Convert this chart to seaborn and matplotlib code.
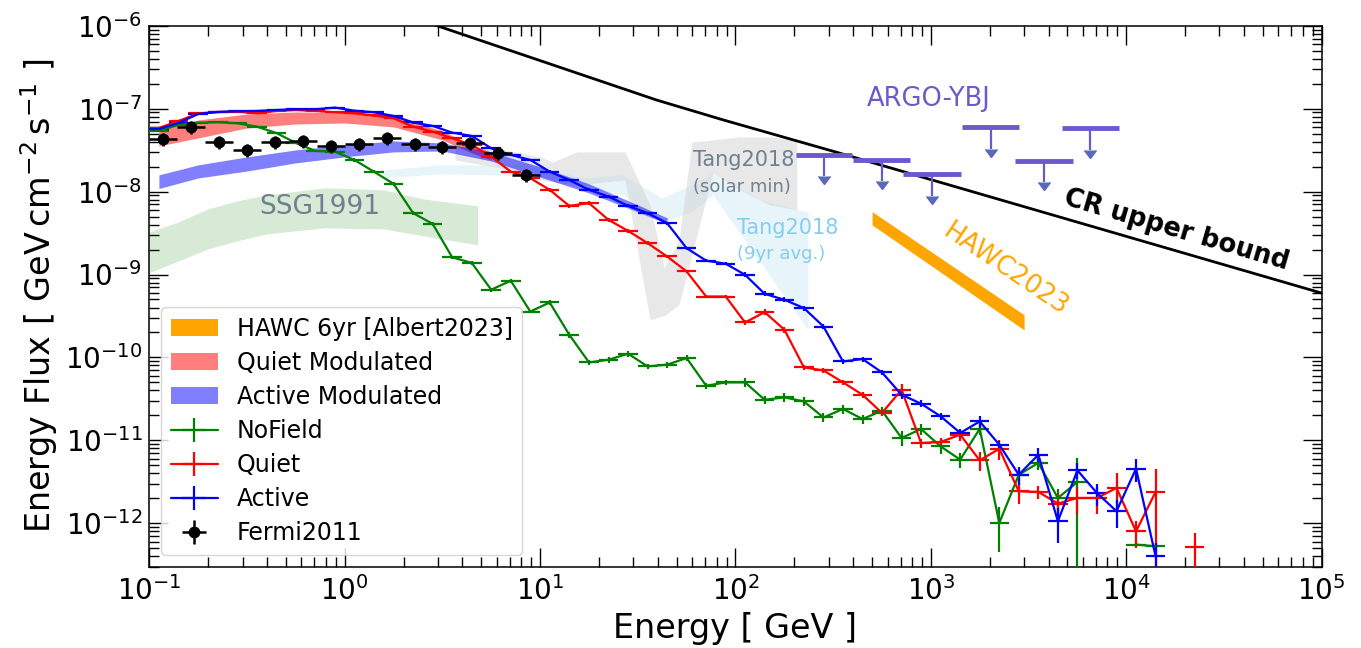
import numpy as np
import pandas as pd
import matplotlib
matplotlib.use("Agg")
import matplotlib.pyplot as plt
from matplotlib.ticker import LogLocator
import seaborn as sns

# ---------------- data ----------------
E_MODEL = [0.112, 0.141, 0.178, 0.224, 0.282, 0.355, 0.447, 0.562, 0.708, 0.891,
           1.12, 1.41, 1.78, 2.24, 2.82, 3.55, 4.47, 5.62, 7.08, 8.91,
           11.2, 14.1, 17.8, 22.4, 28.2, 35.5, 44.7, 56.2, 70.8, 89.1,
           112, 141, 178, 224, 282, 355, 447, 562, 708, 891,
           1122, 1413, 1778, 2239, 2818, 3548, 4467, 5623, 7079, 8913,
           11220, 14125, 17783, 22387]

NOFIELD = [5.43e-8, 6.36e-8, 6.78e-8, 6.86e-8, 6.67e-8, 6.07e-8, 5.09e-8, 3.86e-8, 3.09e-8, 3.03e-8,
           2.41e-8, 1.74e-8, 1.24e-8, 5.5e-9, 4.08e-9, 1.61e-9, 1.38e-9, 6.56e-10, 8.41e-10, 3.58e-10,
           4.6e-10, 1.88e-10, 8.71e-11, 9.38e-11, 1.11e-10, 7.8e-11, 8.18e-11, 9.84e-11, 4.56e-11, 5.0e-11,
           5.0e-11, 3.09e-11, 3.3e-11, 2.95e-11, 1.89e-11, 2.39e-11, 1.81e-11, 2.28e-11, 1.07e-11, 1.37e-11,
           8.47e-12, 5.85e-12, 1.38e-11, 1.01e-12, 3.85e-12, 5.35e-12, 2.02e-12, 3.15e-12, np.nan, np.nan,
           5.54e-13, 5.28e-13, np.nan, np.nan]

QUIET = [5.85e-8, 7.11e-8, 8.75e-8, 9.12e-8, 9.2e-8, 8.8e-8, 9.38e-8, 9.64e-8, 9.38e-8, 9.05e-8,
         8.8e-8, 8.28e-8, 7.66e-8, 6.07e-8, 5.28e-8, 4.4e-8, 3.65e-8, 2.64e-8, 1.74e-8, 1.45e-8,
         1.05e-8, 6.72e-9, 7.25e-9, 4.56e-9, 3.36e-9, 2.39e-9, 1.65e-9, 1.09e-9, 5.43e-10, 5.43e-10,
         2.64e-10, 3.52e-10, 2.16e-10, 7.58e-11, 6.97e-11, 5.0e-11, 3.55e-11, 2.14e-11, 4.08e-11, 9.3e-12,
         9.57e-12, 1.17e-11, 5.74e-12, 7.92e-12, 2.43e-12, 2.39e-12, 1.73e-12, 2.02e-12, 2.02e-12, 2.67e-12,
         8.0e-13, 2.39e-12, np.nan, 5.2e-13]

ACTIVE = [5.69e-8, 6.72e-8, 8.63e-8, 9.12e-8, 9.3e-8, 9.38e-8, 9.64e-8, 9.83e-8, 9.83e-8, 1.03e-7,
          9.46e-8, 9.05e-8, 8.17e-8, 6.82e-8, 6.19e-8, 5.14e-8, 4.69e-8, 3.33e-8, 2.77e-8, 2.41e-8,
          1.74e-8, 1.38e-8, 1.05e-8, 8.71e-9, 6.72e-9, 5.5e-9, 4.16e-9, 2.08e-9, 1.47e-9, 1.35e-9,
          9.92e-10, 5.85e-10, 4.96e-10, 3.94e-10, 2.36e-10, 8.95e-11, 9.57e-11, 6.6e-11, 3.55e-11, 2.77e-11,
          1.95e-11, 1.23e-11, 1.69e-11, 8.87e-12, 3.85e-12, 6.72e-12, 1.06e-12, 4.35e-12, 2.32e-12, 1.4e-12,
          4.56e-12, 4.0e-13, np.nan, np.nan]

REL_ERR_NOFIELD = [0.02, 0.02, 0.02, 0.02, 0.02, 0.02, 0.02, 0.02, 0.02, 0.02,
                   0.05, 0.05, 0.05, 0.05, 0.05, 0.05, 0.05, 0.05, 0.05, 0.05,
                   0.08, 0.08, 0.08, 0.08, 0.08, 0.08, 0.08, 0.08, 0.08, 0.08,
                   0.12, 0.12, 0.12, 0.12, 0.12, 0.12, 0.12, 0.12, 0.20, 0.15,
                   0.20, 0.20, 0.15, 0.55, 0.15, 0.17, 0.30, 0.95, 0.0, 0.0,
                   0.10, 0.10, 0.0, 0.0]
REL_ERR_QUIET = [0.02, 0.02, 0.02, 0.02, 0.02, 0.02, 0.02, 0.02, 0.02, 0.02,
                 0.03, 0.03, 0.03, 0.03, 0.03, 0.03, 0.03, 0.03, 0.03, 0.03,
                 0.05, 0.05, 0.05, 0.05, 0.05, 0.05, 0.05, 0.05, 0.05, 0.05,
                 0.08, 0.08, 0.08, 0.08, 0.08, 0.08, 0.08, 0.08, 0.18, 0.12,
                 0.12, 0.15, 0.25, 0.27, 0.30, 0.18, 0.30, 0.35, 0.35, 0.50,
                 0.35, 0.90, 0.0, 0.45]
REL_ERR_ACTIVE = [0.02, 0.02, 0.02, 0.02, 0.02, 0.02, 0.02, 0.02, 0.02, 0.02,
                  0.03, 0.03, 0.03, 0.03, 0.03, 0.03, 0.03, 0.03, 0.03, 0.03,
                  0.04, 0.04, 0.04, 0.04, 0.04, 0.04, 0.04, 0.04, 0.04, 0.04,
                  0.07, 0.07, 0.07, 0.07, 0.07, 0.07, 0.07, 0.07, 0.10, 0.10,
                  0.10, 0.10, 0.17, 0.12, 0.25, 0.20, 0.45, 0.22, 0.30, 0.38,
                  0.30, 0.45, 0.0, 0.0]

FERMI_E = [0.118, 0.164, 0.228, 0.316, 0.439, 0.611, 0.848, 1.18, 1.64, 2.28, 3.16, 4.39, 6.11, 8.48]
FERMI_F = [4.28e-8, 6.07e-8, 4.0e-8, 3.18e-8, 4.0e-8, 4.08e-8, 3.58e-8, 3.76e-8, 4.4e-8,
           3.72e-8, 3.48e-8, 3.89e-8, 2.9e-8, 1.59e-8]
FERMI_REL_ERR = [0.18, 0.18, 0.18, 0.18, 0.18, 0.18, 0.18, 0.18, 0.18, 0.18, 0.18, 0.18, 0.18, 0.18]

QUIET_MOD_E = [0.112, 0.178, 0.316, 0.562, 1.0, 1.78, 3.16, 4.47, 5.62]
QUIET_MOD_LO = [3.55e-8, 4.44e-8, 5.85e-8, 6.54e-8, 6.72e-8, 6.02e-8, 4.2e-8, 2.93e-8, 2.41e-8]
QUIET_MOD_HI = [5.54e-8, 7.31e-8, 8.63e-8, 9.12e-8, 8.87e-8, 8.17e-8, 5.39e-8, 3.65e-8, 3.01e-8]

ACTIVE_MOD_E = [0.112, 0.178, 0.316, 0.562, 1.0, 1.78, 3.16, 5.62, 10.0, 17.8, 31.6, 44.7]
ACTIVE_MOD_LO = [1.09e-8, 1.46e-8, 1.77e-8, 2.22e-8, 2.62e-8, 3.01e-8, 3.09e-8, 2.34e-8, 1.5e-8,
                 9.64e-9, 5.69e-9, 4.08e-9]
ACTIVE_MOD_HI = [1.59e-8, 2.1e-8, 2.62e-8, 3.18e-8, 3.65e-8, 4.08e-8, 3.86e-8, 3.01e-8, 1.99e-8,
                 1.24e-8, 6.92e-9, 4.82e-9]

SSG_E = [0.1, 0.141, 0.2, 0.282, 0.398, 0.794, 1.585, 2.51, 4.79]
SSG_LO = [1.05e-9, 1.46e-9, 2.04e-9, 2.55e-9, 3.09e-9, 3.65e-9, 3.55e-9, 2.93e-9, 2.28e-9]
SSG_HI = [3.27e-9, 4.31e-9, 6.19e-9, 7.72e-9, 9.12e-9, 1.11e-8, 1.05e-8, 8.17e-9, 6.72e-9]

TANG_MIN_E = [3.67, 6.24, 10.0, 11.6, 15.4, 27.2, 36.5, 43.1, 51.4, 59.8, 76.6, 105, 150, 206]
TANG_MIN_LO = [2.41e-8, 1.93e-8, 1.38e-8, 1.31e-8, 1.2e-8, 1.38e-8, 2.85e-10, 3.18e-10, 4.31e-10,
               1.73e-9, 1.68e-8, 1.05e-8, 6.92e-9, 6.02e-9]
TANG_MIN_HI = [3.55e-8, 3.27e-8, 2.62e-8, 2.28e-8, 3.01e-8, 3.01e-8, 6.92e-9, 1.2e-9, 2.62e-9,
               3.97e-8, 4.2e-8, 4.56e-8, 4.56e-8, 4.2e-8]

TANG_AVG_E = [1.57, 3.07, 8.57, 16.6, 26.6, 42.0, 59.8, 76.6, 133.5, 235]
TANG_AVG_LO = [1.46e-8, 1.64e-8, 1.55e-8, 1.11e-8, 9.12e-9, 4.31e-9, 5.69e-9, 9.12e-9, 1.42e-9, 2.16e-10]
TANG_AVG_HI = [1.82e-8, 2.1e-8, 2.1e-8, 1.46e-8, 1.59e-8, 8.4e-9, 1.2e-8, 1.68e-8, 7.94e-9, 5.69e-9]

HAWC_E = [500, 3000]
HAWC_LO = [3.97e-9, 2.15e-10]
HAWC_HI = [5.74e-9, 3.27e-10]

ARGO_E = [283, 562, 1014, 2037, 3784, 6531]
ARGO_E_LO = [204, 401, 724, 1439, 2692, 4667]
ARGO_E_HI = [393, 778, 1422, 2825, 5321, 9204]
ARGO_F = [2.77e-8, 2.41e-8, 1.63e-8, 5.97e-8, 2.36e-8, 5.81e-8]

CR_E = [2.0, 2.97, 39.5, 86.6, 343, 1e5]
CR_F = [1.37e-6, 1.0e-6, 1.27e-7, 7.31e-8, 2.9e-8, 5.97e-10]

LEGEND_LABELS = ["HAWC 6yr [Albert2023]", "Quiet Modulated", "Active Modulated",
                 "NoField", "Quiet", "Active", "Fermi2011"]

# ---------------- style ----------------
sns.set_theme(style="ticks")
plt.rcParams["font.family"] = ["DejaVu Sans"]
plt.rcParams.update({
    "xtick.direction": "in", "ytick.direction": "in",
    "xtick.top": True, "ytick.right": True,
    "xtick.major.size": 14, "ytick.major.size": 14,
    "xtick.minor.size": 7.5, "ytick.minor.size": 7.5,
    "xtick.major.width": 1.0, "ytick.major.width": 1.0,
    "xtick.minor.width": 1.0, "ytick.minor.width": 1.0,
    "xtick.labelsize": 20, "ytick.labelsize": 20,
    "xtick.major.pad": 7, "ytick.major.pad": 5,
    "axes.linewidth": 1.1, "axes.edgecolor": "black",
    "xtick.color": "black", "ytick.color": "black",
    "axes.labelcolor": "black", "text.color": "black",
})

fig = plt.figure(figsize=(13.61, 6.48), dpi=100)
ax = fig.add_axes([0.1097, 0.1255, 0.9711 - 0.1097, 0.9603 - 0.1255])
ax.set_xscale("log")
ax.set_yscale("log")

# ---------------- bands ----------------
ax.fill_between(TANG_AVG_E, TANG_AVG_LO, TANG_AVG_HI, color="skyblue", alpha=0.2, lw=0, zorder=0.5)
ax.fill_between(TANG_MIN_E, TANG_MIN_LO, TANG_MIN_HI, color="lightgray", alpha=0.5, lw=0, zorder=0.6)
ax.fill_between(SSG_E, SSG_LO, SSG_HI, color="green", alpha=0.16, lw=0, zorder=0.7)
h_quiet_mod = ax.fill_between(QUIET_MOD_E, QUIET_MOD_LO, QUIET_MOD_HI, color="red", alpha=0.5, lw=0, zorder=1)
h_active_mod = ax.fill_between(ACTIVE_MOD_E, ACTIVE_MOD_LO, ACTIVE_MOD_HI, color="blue", alpha=0.5, lw=0, zorder=1.1)
h_hawc = ax.fill_between(HAWC_E, HAWC_LO, HAWC_HI, color="orange", lw=0, zorder=1.2)

# ---------------- CR upper bound ----------------
sns.lineplot(x=CR_E, y=CR_F, ax=ax, color="black", lw=2.0, zorder=2)

# ---------------- ARGO-YBJ upper limits ----------------
argo_e = np.array(ARGO_E)
argo_f = np.array(ARGO_F)
ax.errorbar(argo_e, argo_f,
            xerr=[argo_e - np.array(ARGO_E_LO), np.array(ARGO_E_HI) - argo_e],
            fmt="none", ecolor="slateblue", elinewidth=3.5, capsize=0, zorder=3)
ax.errorbar(argo_e, argo_f, yerr=0.45 * argo_f, uplims=True, fmt="none",
            ecolor="slateblue", elinewidth=1.6, capsize=4, zorder=3)

# ---------------- model curves ----------------
e = np.array(E_MODEL)
xerr_model = [e * (1 - 10 ** -0.05), e * (10 ** 0.05 - 1)]
handles_models = []
for vals, rel, col in [(NOFIELD, REL_ERR_NOFIELD, "green"),
                       (QUIET, REL_ERR_QUIET, "red"),
                       (ACTIVE, REL_ERR_ACTIVE, "blue")]:
    f = np.array(vals)
    h = ax.errorbar(e, f, xerr=xerr_model, yerr=np.array(rel) * f, fmt="-",
                    color=col, lw=1.6, elinewidth=1.6, capsize=0, zorder=4)
    handles_models.append(h)

# ---------------- Fermi ----------------
fe = np.array(FERMI_E)
ff = np.array(FERMI_F)
h_fermi = ax.errorbar(fe, ff, xerr=[fe * (1 - 10 ** (-1 / 14)), fe * (10 ** (1 / 14) - 1)],
                      yerr=np.array(FERMI_REL_ERR) * ff, fmt="o", color="black",
                      ms=7.5, elinewidth=1.8, capsize=0, zorder=5)

# ---------------- annotations ----------------
ax.text(0.748, 6.55e-9, "SSG1991", color="slategray", fontsize=19, ha="center", va="center", zorder=6)
ax.text(977, 1.31e-7, "ARGO-YBJ", color="slateblue", fontsize=18.5, ha="center", va="center", zorder=6)
ax.text(60.6, 2.41e-8, "Tang2018", color="slategray", fontsize=15, ha="left", va="center", zorder=6)
ax.text(60.6, 1.14e-8, "(solar min)", color="slategray", fontsize=13, ha="left", va="center", zorder=6)
ax.text(101.8, 3.66e-9, "Tang2018", color="skyblue", fontsize=15, ha="left", va="center", zorder=6)
ax.text(101.8, 1.77e-9, "(9yr avg.)", color="skyblue", fontsize=13, ha="left", va="center", zorder=6)
ax.text(2393, 1.14e-9, "HAWC2023", color="orange", fontsize=18.5, rotation=-34,
        ha="center", va="center", rotation_mode="anchor", zorder=6)
ax.text(17950, 3.41e-9, "CR upper bound", color="black", fontsize=18.5, fontweight="bold",
        rotation=-16.3, ha="center", va="center", rotation_mode="anchor", zorder=6)

# ---------------- axes ----------------
ax.set_xlim(0.1, 1e5)
ax.set_ylim(3e-13, 1e-6)
ax.xaxis.set_major_locator(LogLocator(base=10, numticks=100))
ax.yaxis.set_major_locator(LogLocator(base=10, numticks=100))
ax.xaxis.set_minor_locator(LogLocator(base=10, subs=np.arange(2, 10), numticks=100))
ax.yaxis.set_minor_locator(LogLocator(base=10, subs=np.arange(2, 10), numticks=100))
ax.set_xlabel("Energy [ GeV ]", fontsize=24)
ax.set_ylabel(r"Energy Flux [ $\mathrm{GeV\,cm^{-2}\,s^{-1}}$ ]", fontsize=24)
for s in ax.spines.values():
    s.set_visible(True)
    s.set_color("black")

handles = [h_hawc, h_quiet_mod, h_active_mod] + handles_models + [h_fermi]
leg = ax.legend(handles, LEGEND_LABELS, loc="lower left", fontsize=17, labelspacing=0.43,
                framealpha=0.8, edgecolor="0.8", fancybox=True)
leg.set_zorder(10)

fig.savefig("out.png", dpi=100)
